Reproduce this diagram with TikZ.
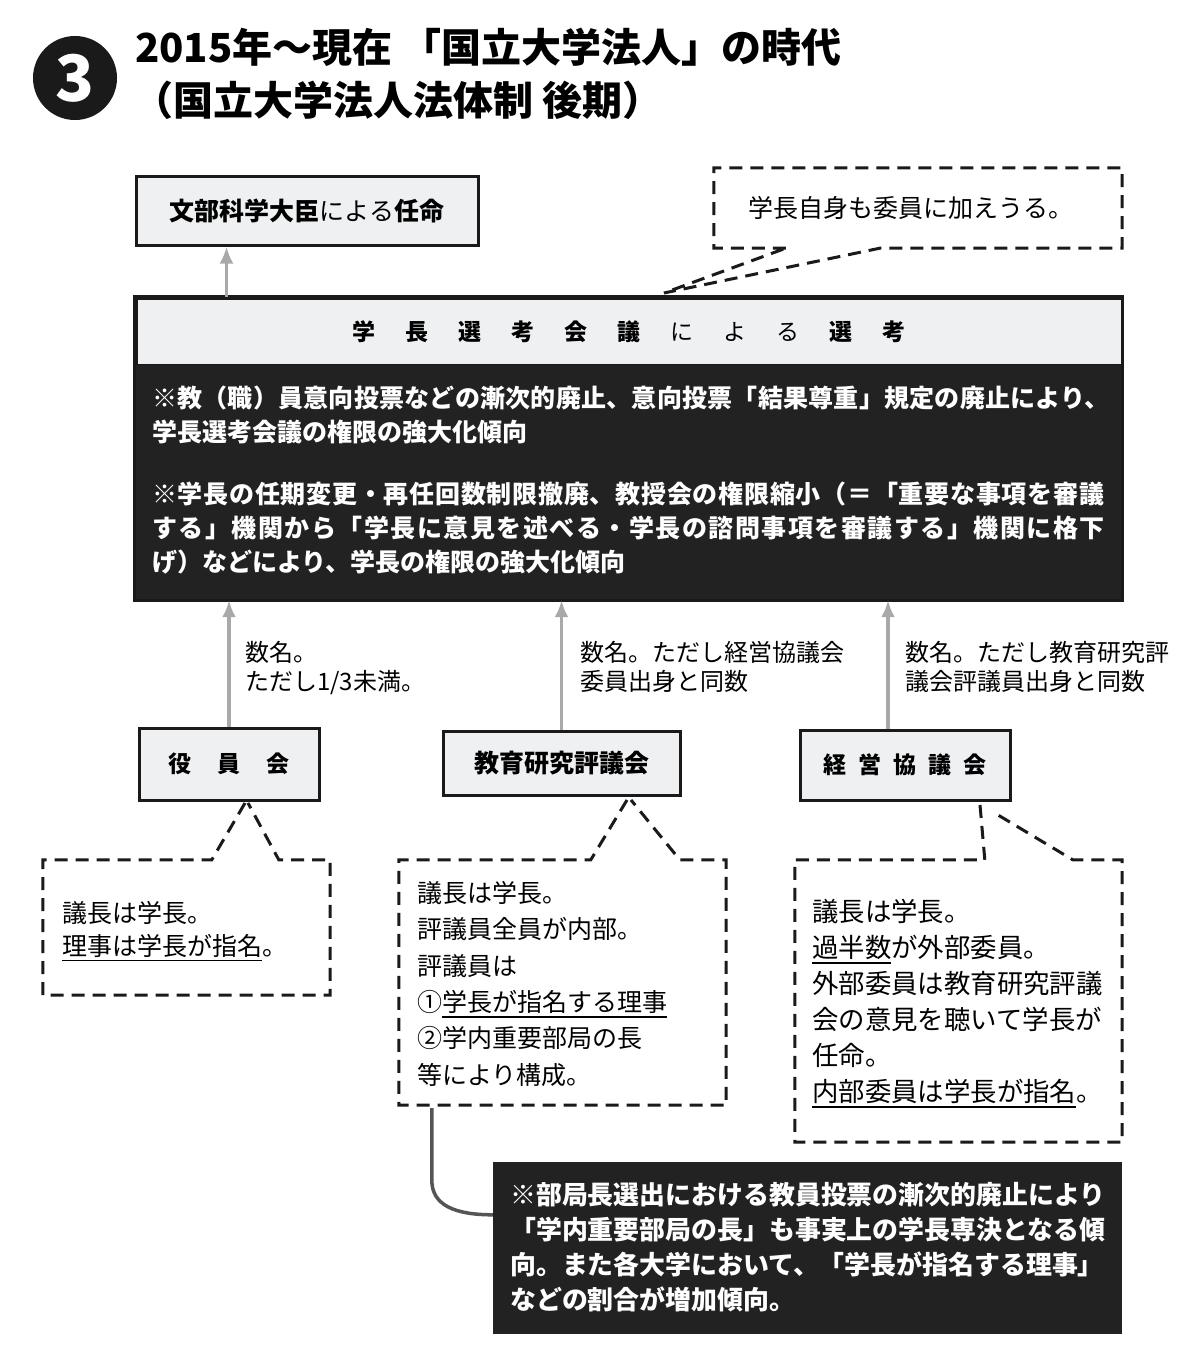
\documentclass[tikz,border=0pt]{standalone}
\usepackage{fontspec}
\setmainfont{Noto Sans CJK JP}
\usetikzlibrary{arrows.meta,calc}
\definecolor{boxfill}{HTML}{EEF0F1}
\definecolor{darkfill}{HTML}{222222}
\definecolor{arrowgray}{HTML}{A9A9A9}
\definecolor{linkgray}{HTML}{555555}
\definecolor{ink}{HTML}{1A1A1A}
\newcommand\ulx[1]{\setbox0\hbox{#1}\rlap{\rule[-6pt]{\wd0}{1.8pt}}\box0}
\newcommand\hgap{\hspace{30pt}}
\newcommand\lsp[2]{{\addfontfeature{LetterSpace=#1}#2}}
\tikzset{
  lightbox/.style={draw=ink, line width=3pt, fill=boxfill, inner sep=0},
  darkbox/.style={fill=darkfill, draw=none, inner sep=0},
  upArrow/.style={draw=arrowgray, line width=3.5pt, -{Latex[length=17pt,width=14pt]}},
  callout/.style={draw=ink, line width=3pt, dash pattern=on 13pt off 8pt},
  shapebox/.style={draw=none, inner sep=0},
  bodytext/.style={align=left, inner sep=0, anchor=north west},
}
\begin{document}
\begin{tikzpicture}[x=1pt,y=-1pt]
\useasboundingbox (0,0) rectangle (1200,1365);
\fill[white] (0,0) rectangle (1200,1365);

% title
\node[circle, fill=ink, minimum size=84pt, inner sep=0, text=white,
  font=\fontsize{64}{64}\selectfont\bfseries] (num) at (75,78) {3};
\node[anchor=west, inner sep=0, font=\fontsize{40}{40}\selectfont\bfseries] (title1) at (135,47)
  {2015年～現在 「国立大学法人」の時代};
\node[anchor=west, inner sep=0, font=\fontsize{40}{40}\selectfont\bfseries] (title2) at (133,100)
  {（国立大学法人法体制 後期）};

% minister
\node[lightbox, minimum width=342pt, minimum height=69pt, font=\fontsize{25}{30}\selectfont]
  (minister) at (307,210.5) {\bfseries 文部科学大臣\mdseries による\bfseries 任命};

% main box
\node[lightbox, minimum width=986pt, minimum height=67pt, font=\fontsize{23}{28}\selectfont]
  (council) at (629,331.5)
  {\bfseries 学\hgap 長\hgap 選\hgap 考\hgap 会\hgap 議\hgap\mdseries に\hgap よ\hgap る\hgap\bfseries 選\hgap 考};
\node[darkbox, minimum width=986pt, minimum height=235pt] (notes) at (629,482.5) {};
\draw[ink, line width=3pt] (council.north west) rectangle (notes.south east);
\node[bodytext, text=white, font=\fontsize{25}{34}\selectfont\bfseries] (notestext) at (152,386)
  {\lsp{1}{※教（職）員意向投票などの漸次的廃止、意向投票「結果尊重」規定の廃止により、}\\
   学長選考会議の権限の強大化傾向\\[28pt]
   \lsp{3}{※学長の任期変更・再任回数制限撤廃、教授会の権限縮小（＝「重要な事項を審議}\\
   \lsp{6}{する」機関から「学長に意見を述べる・学長の諮問事項を審議する」機関に格下}\\
   げ）などにより、学長の権限の強大化傾向};

% arrow to minister
\draw[upArrow] ($(council.north west)+(92,0)$) -- ($(minister.south west)+(92,0)$);

% top callout
\node[shapebox, minimum width=408pt, minimum height=80pt] (cT) at (918,208) {};
\node[inner sep=0, font=\fontsize{25}{30}\selectfont] (cTtext) at (911,208) {学長自身も委員に加えうる。};
\coordinate (tipT) at (664,293);
\draw[callout] ($(cT.south west)+(72,0)$) -- (cT.south west) -- (cT.north west) -- (cT.north east)
  -- (cT.south east) -- ($(cT.south west)+(166,0)$) -- (tipT) -- cycle;

% three bodies
\node[lightbox, minimum width=180pt, minimum height=72pt, font=\fontsize{23}{28}\selectfont\bfseries]
  (yakuin) at (229,764) {役\hspace{26pt}員\hspace{26pt}会};
\node[lightbox, minimum width=237pt, minimum height=64pt, font=\fontsize{25}{30}\selectfont\bfseries]
  (kyoiku) at (561.5,763) {教育研究評議会};
\node[lightbox, minimum width=210pt, minimum height=70pt, font=\fontsize{23}{28}\selectfont\bfseries]
  (keiei) at (905,765) {経\hspace{12pt}営\hspace{12pt}協\hspace{12pt}議\hspace{12pt}会};

\draw[upArrow] (yakuin.north) -- (yakuin.north |- notes.south);
\draw[upArrow] (kyoiku.north) -- (kyoiku.north |- notes.south);
\coordinate (k3) at ($(keiei.north)+(-17,0)$);
\draw[upArrow] (k3) -- (k3 |- notes.south);

\node[bodytext, font=\fontsize{24}{29}\selectfont] (lab1) at (245,641) {数名。\\ただし1/3未満。};
\node[bodytext, font=\fontsize{24}{29}\selectfont] (lab2) at (580,641) {数名。ただし経営協議会\\委員出身と同数};
\node[bodytext, font=\fontsize{24}{29}\selectfont] (lab3) at (905,641) {数名。ただし教育研究評\\議会評議員出身と同数};

% left callout
\node[shapebox, minimum width=287pt, minimum height=135pt] (cL) at (186.5,927.5) {};
\coordinate (tipL1) at (245,803);
\coordinate (tipL2) at (248,803);
\draw[callout] (tipL1) -- ($(cL.north west)+(169,0)$) -- (cL.north west) -- (cL.south west)
  -- (cL.south east) -- (cL.north east) -- ($(cL.north west)+(236,0)$) -- (tipL2);
\node[bodytext, font=\fontsize{25}{33}\selectfont] (cLtext) at (62,901)
  {議長は学長。\\\ulx{理事は学長が指名}。};

% middle callout
\node[shapebox, minimum width=327pt, minimum height=245pt] (cM) at (562.5,982.5) {};
\coordinate (tipM1) at (627,800);
\coordinate (tipM2) at (631,800);
\draw[callout] (tipM1) -- ($(cM.north west)+(192,0)$) -- (cM.north west) -- (cM.south west)
  -- (cM.south east) -- (cM.north east) -- ($(cM.north west)+(281,0)$) -- (tipM2);
\node[bodytext, font=\fontsize{25}{36.4}\selectfont] (cMtext) at (417,881)
  {議長は学長。\\評議員全員が内部。\\評議員は\\①\ulx{学長が指名する理事}\\②学内重要部局の長\\等により構成。};

% right callout
\node[shapebox, minimum width=327pt, minimum height=282pt] (cR) at (958.5,1001) {};
\coordinate (tipR1) at (980,805);
\coordinate (tipR2) at (993,812);
\draw[callout] (tipR1) -- ($(cR.north west)+(190,0)$) -- (cR.north west) -- (cR.south west)
  -- (cR.south east) -- (cR.north east) -- ($(cR.north west)+(278,0)$) -- (tipR2);
\node[bodytext, font=\fontsize{26.4}{36}\selectfont] (cRtext) at (812,899)
  {議長は学長。\\\ulx{過半数}が外部委員。\\外部委員は教育研究評議\\会の意見を聴いて学長が\\任命。\\\ulx{内部委員は学長が指名}。};

% bottom memo
\node[darkbox, minimum width=629pt, minimum height=172pt] (memo) at (807.5,1248) {};
\node[bodytext, text=white, font=\fontsize{25.9}{35}\selectfont\bfseries] (memotext) at (510,1182)
  {※部局長選出における教員投票の漸次的廃止により\\
   「学内重要部局の長」も事実上の学長専決となる傾\\
   向。また各大学において、「学長が指名する理事」\\
   などの割合が増加傾向。};
\draw[linkgray, line width=3.5pt] ($(cM.south west)+(33,3)$) -- ++(0,72)
  .. controls +(0,25) and +(-38,0) .. ($(memo.north west)+(0,53)$);
\end{tikzpicture}
\end{document}
